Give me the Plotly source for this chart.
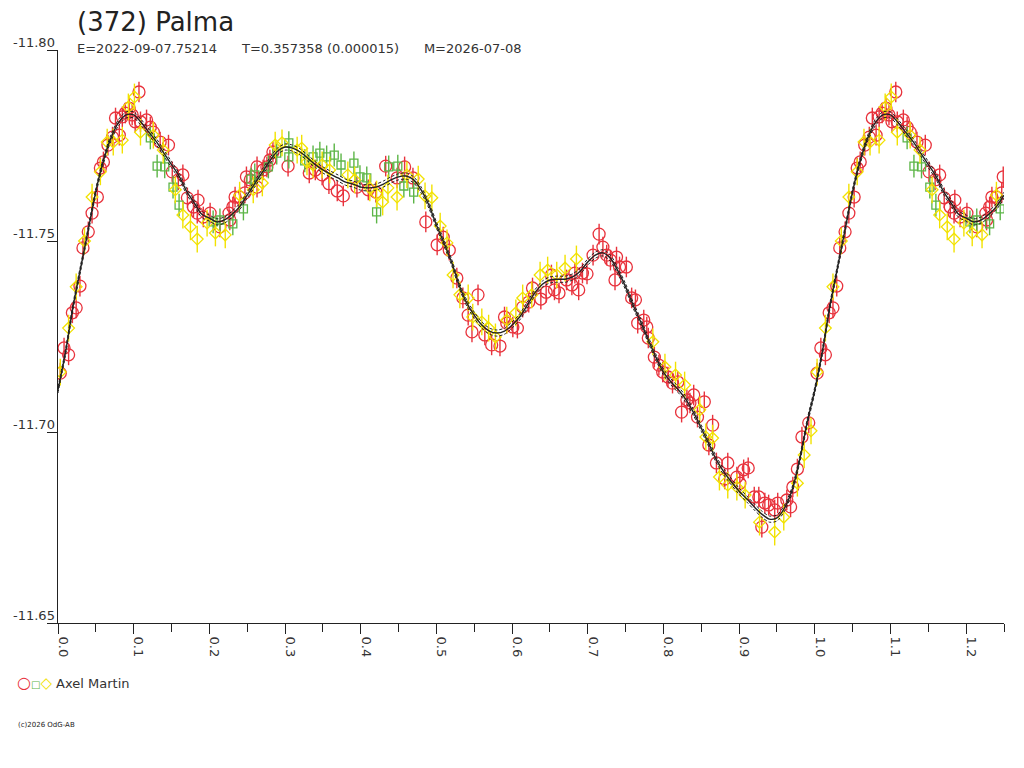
import plotly.graph_objects as go

# Lightcurve of (372) Palma, phase folded
CURVE_PHASE = [i / 100 for i in range(101)]
CURVE_MAG = [
    -11.711, -11.721, -11.733, -11.743, -11.753, -11.763, -11.771, -11.777, -11.781, -11.783,
    -11.783, -11.781, -11.7785, -11.776, -11.773, -11.770, -11.767, -11.763, -11.760, -11.757,
    -11.756, -11.755, -11.7555, -11.757, -11.759, -11.762, -11.765, -11.768, -11.771, -11.7735,
    -11.7746, -11.7743, -11.7733, -11.7717, -11.770, -11.7686, -11.7675, -11.7665, -11.7654, -11.7649,
    -11.7641, -11.7639, -11.7641, -11.7649, -11.766, -11.7668, -11.767, -11.766, -11.7633, -11.7594,
    -11.7542, -11.7495, -11.7445, -11.7385, -11.7338, -11.7306, -11.728, -11.7264, -11.7259, -11.7264,
    -11.728, -11.7301, -11.7332, -11.7364, -11.7387, -11.7398, -11.740, -11.740, -11.7406, -11.7421,
    -11.7445, -11.7463, -11.7469, -11.7455, -11.7421, -11.738, -11.7332, -11.7288, -11.7241, -11.7196,
    -11.7157, -11.7131, -11.711, -11.7084, -11.705, -11.701, -11.6969, -11.6927, -11.6895, -11.6869,
    -11.6845, -11.6825, -11.6804, -11.6785, -11.6772, -11.6775, -11.6801, -11.6848, -11.6927, -11.7026,
    -11.711,
]
CURVE_BAND = 0.0008

RED_PHASE = [
    0.003, 0.008, 0.014, 0.019, 0.024, 0.029, 0.033, 0.040, 0.045, 0.052,
    0.056, 0.060, 0.066, 0.072, 0.081, 0.076, 0.085, 0.089, 0.094, 0.098,
    0.107, 0.102, 0.109, 0.117, 0.122, 0.126, 0.135, 0.146, 0.151, 0.165,
    0.159, 0.171, 0.179, 0.184, 0.185, 0.192, 0.201, 0.214, 0.226, 0.227,
    0.231, 0.234, 0.240, 0.247, 0.249, 0.254, 0.263, 0.263, 0.271, 0.276,
    0.280, 0.284, 0.304, 0.332, 0.340, 0.349, 0.358, 0.369, 0.377, 0.395,
    0.410, 0.420, 0.433, 0.448, 0.458, 0.469, 0.486, 0.509, 0.501, 0.517,
    0.527, 0.535, 0.555, 0.542, 0.547, 0.564, 0.573, 0.584, 0.590, 0.593,
    0.601, 0.607, 0.614, 0.622, 0.627, 0.638, 0.645, 0.652, 0.656, 0.662,
    0.672, 0.679, 0.683, 0.688, 0.693, 0.699, 0.707, 0.715, 0.720, 0.725,
    0.730, 0.738, 0.736, 0.742, 0.751, 0.758, 0.763, 0.766, 0.774, 0.778,
    0.780, 0.788, 0.794, 0.799, 0.806, 0.812, 0.819, 0.824, 0.831, 0.835,
    0.840, 0.845, 0.854, 0.865, 0.860, 0.870, 0.885, 0.881, 0.897, 0.901,
    0.906, 0.912, 0.920, 0.926, 0.934, 0.939, 0.947, 0.951, 0.963, 0.968,
    0.930, 0.971, 0.977, 0.983, 0.992,
]
RED_MAG = [
    -11.7154, -11.722, -11.7202, -11.7312, -11.7325, -11.7382, -11.7482, -11.7524, -11.7573, -11.7615,
    -11.7691, -11.7707, -11.7751, -11.7772, -11.7777, -11.7822, -11.7825, -11.7835, -11.7848, -11.783,
    -11.789, -11.7812, -11.7812, -11.7817, -11.7798, -11.7785, -11.7759, -11.7751, -11.7681, -11.7673,
    -11.766, -11.7613, -11.7589, -11.7573, -11.7607, -11.7563, -11.7573, -11.7537, -11.7573, -11.7555,
    -11.7589, -11.7615, -11.7615, -11.7626, -11.7668, -11.766, -11.7641, -11.7694, -11.7686, -11.7694,
    -11.7712, -11.7733, -11.7696, -11.7678, -11.7686, -11.7673, -11.765, -11.7631, -11.7618, -11.7641,
    -11.7634, -11.7628, -11.7696, -11.7665, -11.7694, -11.7665, -11.755, -11.751, -11.749, -11.7476,
    -11.7403, -11.7351, -11.7359, -11.7306, -11.7262, -11.7254, -11.7228, -11.7225, -11.7301, -11.7285,
    -11.7275, -11.7272, -11.7327, -11.734, -11.7377, -11.7348, -11.7366, -11.7411, -11.7372, -11.7364,
    -11.7398, -11.7385, -11.7416, -11.7372, -11.7416, -11.7414, -11.7463, -11.7518, -11.7484, -11.7463,
    -11.745, -11.7458, -11.7398, -11.7432, -11.7432, -11.7351, -11.7346, -11.7285, -11.7293, -11.7275,
    -11.7246, -11.7196, -11.7175, -11.7157, -11.7144, -11.7128, -11.7131, -11.7052, -11.7084, -11.7076,
    -11.7097, -11.7039, -11.7079, -11.7018, -11.6966, -11.6919, -11.6919, -11.6877, -11.6882, -11.6866,
    -11.6901, -11.6906, -11.683, -11.683, -11.6814, -11.6809, -11.6796, -11.6814, -11.6822, -11.6804,
    -11.6751, -11.6856, -11.6903, -11.6987, -11.7024,
]
RED_ERR = 0.0027

GREEN_PHASE = [
    0.122, 0.131, 0.141, 0.152, 0.160, 0.205, 0.214, 0.231, 0.245, 0.255,
    0.260, 0.278, 0.289, 0.305, 0.305, 0.326, 0.337, 0.346, 0.355, 0.365,
    0.374, 0.391, 0.399, 0.408, 0.421, 0.437, 0.449, 0.457, 0.470,
]
GREEN_MAG = [
    -11.777, -11.7696, -11.7694, -11.7641, -11.7594, -11.755, -11.7555, -11.7545, -11.7584, -11.7662,
    -11.7673, -11.7694, -11.773, -11.7757, -11.772, -11.771, -11.772, -11.773, -11.772, -11.7725,
    -11.7699, -11.7704, -11.7668, -11.7665, -11.7576, -11.7694, -11.7696, -11.7644, -11.7628,
]
GREEN_ERR = 0.003

YELLOW_PHASE = [
    0.003, 0.014, 0.024, 0.035, 0.045, 0.056, 0.065, 0.073, 0.085, 0.093,
    0.101, 0.109, 0.126, 0.139, 0.155, 0.165, 0.175, 0.184, 0.197, 0.208,
    0.221, 0.240, 0.258, 0.270, 0.287, 0.296, 0.316, 0.322, 0.329, 0.337,
    0.349, 0.359, 0.383, 0.392, 0.412, 0.421, 0.429, 0.436, 0.448, 0.461,
    0.476, 0.485, 0.494, 0.505, 0.514, 0.522, 0.531, 0.542, 0.548, 0.560,
    0.569, 0.578, 0.593, 0.605, 0.614, 0.626, 0.637, 0.647, 0.659, 0.670,
    0.685, 0.786, 0.802, 0.816, 0.828, 0.848, 0.856, 0.865, 0.874, 0.885,
    0.897, 0.908, 0.927, 0.947, 0.959, 0.977, 0.986, 0.995,
]
YELLOW_MAG = [
    -11.7157, -11.7272, -11.738, -11.75, -11.7615, -11.7681, -11.7759, -11.7759, -11.7764, -11.7851,
    -11.7877, -11.7785, -11.7777, -11.7738, -11.7634, -11.7568, -11.7537, -11.7505, -11.7547, -11.7521,
    -11.7516, -11.762, -11.7634, -11.7652, -11.7751, -11.7757, -11.7738, -11.7743, -11.7707, -11.7699,
    -11.7699, -11.7686, -11.7673, -11.766, -11.7639, -11.7623, -11.7602, -11.7639, -11.7615, -11.7673,
    -11.7662, -11.7618, -11.7613, -11.7539, -11.7495, -11.7411, -11.7359, -11.7351, -11.7301, -11.7288,
    -11.7272, -11.7249, -11.7293, -11.7312, -11.7351, -11.7359, -11.7411, -11.7424, -11.7411, -11.7429,
    -11.7453, -11.7236, -11.717, -11.7149, -11.7123, -11.7058, -11.6987, -11.6984, -11.6882, -11.6861,
    -11.6856, -11.6835, -11.6764, -11.6738, -11.6777, -11.6866, -11.694, -11.7003,
]
YELLOW_ERR = 0.0035

X_TICKS = [0.0, 0.1, 0.2, 0.3, 0.4, 0.5, 0.6, 0.7, 0.8, 0.9, 1.0, 1.1, 1.2]
Y_TICKS = [-11.80, -11.75, -11.70, -11.65]

RED = "#E8323C"
GREEN = "#5CB547"
YELLOW = "#F2E200"
FONT = "DejaVu Sans"
GAP = "\u00a0" * 6


def wrap(phase, mag):
    # the plot shows phase 0..1.25, so the first quarter is repeated after 1.0
    xs = list(phase) + [p + 1 for p in phase if p <= 0.25]
    ys = list(mag) + [m for p, m in zip(phase, mag) if p <= 0.25]
    return xs, ys


fig = go.Figure()

for phase, mag, err, color, symbol, size in [
    (RED_PHASE, RED_MAG, RED_ERR, RED, "circle-open", 12),
    (GREEN_PHASE, GREEN_MAG, GREEN_ERR, GREEN, "square-open", 8),
    (YELLOW_PHASE, YELLOW_MAG, YELLOW_ERR, YELLOW, "diamond-open", 9),
]:
    xs, ys = wrap(phase, mag)
    fig.add_trace(go.Scatter(
        x=xs, y=ys, mode="markers",
        marker=dict(symbol=symbol, size=size, color=color, line=dict(width=1.3, color=color)),
        error_y=dict(type="constant", value=err, color=color, thickness=1.4, width=0),
        showlegend=False, hoverinfo="skip",
    ))

cx, cy = wrap(CURVE_PHASE[:-1], CURVE_MAG[:-1])
order = sorted(range(len(cx)), key=lambda i: cx[i])
cx = [cx[i] for i in order]
cy = [cy[i] for i in order]
for off, dash, w in [(-CURVE_BAND, "3px,2px", 1), (CURVE_BAND, "3px,2px", 1), (0, "solid", 1.4)]:
    fig.add_trace(go.Scatter(
        x=cx, y=[v + off for v in cy], mode="lines",
        line=dict(color="#222222", width=w, dash=dash, shape="spline", smoothing=0.8),
        showlegend=False, hoverinfo="skip",
    ))

# the page adds an 8px body margin, so everything is laid out 8px up/left
fig.update_layout(
    width=1024, height=768,
    margin=dict(l=50, r=28, t=42, b=153),
    paper_bgcolor="white", plot_bgcolor="white",
    font=dict(family=FONT, size=13, color="#333333"),
    xaxis=dict(
        range=[0, 1.25], showgrid=False, zeroline=False,
        showline=True, linecolor="#222222", linewidth=1,
        tickvals=X_TICKS, ticktext=[f"{v:.1f}" for v in X_TICKS],
        ticks="outside", ticklen=10, tickcolor="#222222", tickangle=90,
        ticklabelshift=5,
        minor=dict(dtick=0.05, tick0=0, ticks="outside", ticklen=8, tickcolor="#222222", showgrid=False),
        tickfont=dict(family=FONT, size=13, color="#333333"),
    ),
    yaxis=dict(
        range=[-11.65, -11.80], showgrid=False, zeroline=False,
        showline=True, linecolor="#222222", linewidth=1,
        tickvals=Y_TICKS, showticklabels=False,
        ticks="outside", ticklen=10, tickcolor="#222222",
    ),
)

# y tick labels sit just above their tick mark
for v in Y_TICKS:
    fig.add_annotation(
        text=f"{v:.2f}", xref="paper", yref="y", x=0, y=v,
        xanchor="right", yanchor="middle", yshift=8, xshift=-1, showarrow=False,
        font=dict(family=FONT, size=13, color="#333333"),
    )

# title and header line
fig.add_annotation(
    text="(372) Palma",
    xref="paper", yref="paper", x=(75 - 58) / 946, y=(623 - 22) / 573,
    xanchor="left", yanchor="middle", showarrow=False,
    font=dict(family=FONT, size=26, color="#222222"),
)
fig.add_annotation(
    text=f"E=2022-09-07.75214{GAP}T=0.357358 (0.000015){GAP}M=2026-07-08",
    xref="paper", yref="paper", x=(75 - 58) / 946, y=(623 - 48) / 573,
    xanchor="left", yanchor="middle", showarrow=False,
    font=dict(family=FONT, size=13, color="#333333"),
)
fig.add_annotation(
    text=(f'<span style="color:{RED};font-size:16px">○</span>'
          f'<span style="color:{GREEN};font-size:10px">□</span>'
          f'<span style="color:{YELLOW};font-size:15px">◇</span> Axel Martin'),
    xref="paper", yref="paper", x=(15 - 58) / 946, y=(623 - 683) / 573,
    xanchor="left", yanchor="middle", showarrow=False,
    font=dict(family=FONT, size=13, color="#333333"),
)
fig.add_annotation(
    text="(c)2026 OdG-AB",
    xref="paper", yref="paper", x=(16 - 58) / 946, y=(623 - 725) / 573,
    xanchor="left", yanchor="middle", showarrow=False,
    font=dict(family=FONT, size=7, color="#222222"),
)

fig.write_html("out.html")
